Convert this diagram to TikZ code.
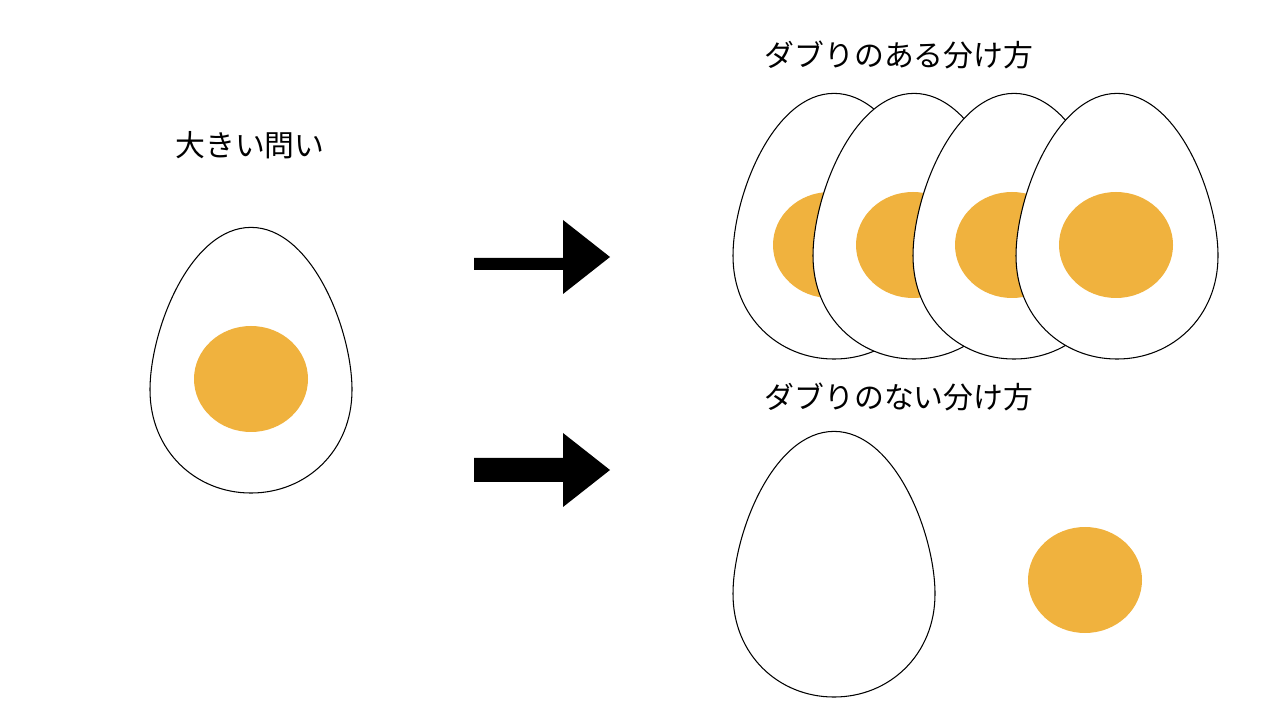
\documentclass[tikz,border=0pt]{standalone}
\usepackage{fontspec}
\newfontfamily\cjk{Noto Sans CJK JP}
\definecolor{yolk}{HTML}{F0B23E}
\tikzset{
  eggline/.style={draw=black, fill=white, line width=0.6pt},
  yolkfill/.style={fill=yolk, draw=none},
  arrowfill/.style={fill=black, draw=none},
  lbl/.style={font=\cjk\fontsize{17}{20}\selectfont, inner sep=0pt}
}
\newcommand{\eggpath}{(0,1.61) .. controls (0.6,1.61) and (1,0.6) .. (1,0) .. controls (1,-0.6) and (0.55,-1.02) .. (0,-1.02) .. controls (-0.55,-1.02) and (-1,-0.6) .. (-1,0) .. controls (-1,0.6) and (-0.6,1.61) .. (0,1.61) -- cycle}
\begin{document}
\begin{tikzpicture}[x=0.02cm,y=0.02cm]
\useasboundingbox (0,0) rectangle (1280,720);
% big egg
\begin{scope}[shift={(251,330)},scale=101]
\path[eggline] \eggpath;
\end{scope}
\fill[yolkfill] (251,341) ellipse [x radius=57, y radius=53];
% overlapping eggs
\foreach \cx/\yx in {834/830, 914/913, 1014/1012, 1117/1116}{
  \begin{scope}[shift={(\cx,464)},scale=101]
  \path[eggline] \eggpath;
  \end{scope}
  \fill[yolkfill] (\yx,475) ellipse [x radius=57, y radius=53];
}
% separated
\begin{scope}[shift={(834,126)},scale=101]
\path[eggline] \eggpath;
\end{scope}
\fill[yolkfill] (1085,140) ellipse [x radius=57, y radius=53];
% arrows
\fill[arrowfill] (474,462) -- (563,462) -- (563,500) -- (610,463) -- (563,426) -- (563,450) -- (474,450) -- cycle;
\fill[arrowfill] (474,238) -- (563,238) -- (563,213) -- (610,250) -- (563,287) -- (563,262) -- (474,262) -- cycle;
% labels
\node[lbl] (t1) at (250,575) {大きい問い};
\node[lbl] (t2) at (899,665) {ダブりのある分け方};
\node[lbl] (t3) at (899,323) {ダブりのない分け方};
\end{tikzpicture}
\end{document}
